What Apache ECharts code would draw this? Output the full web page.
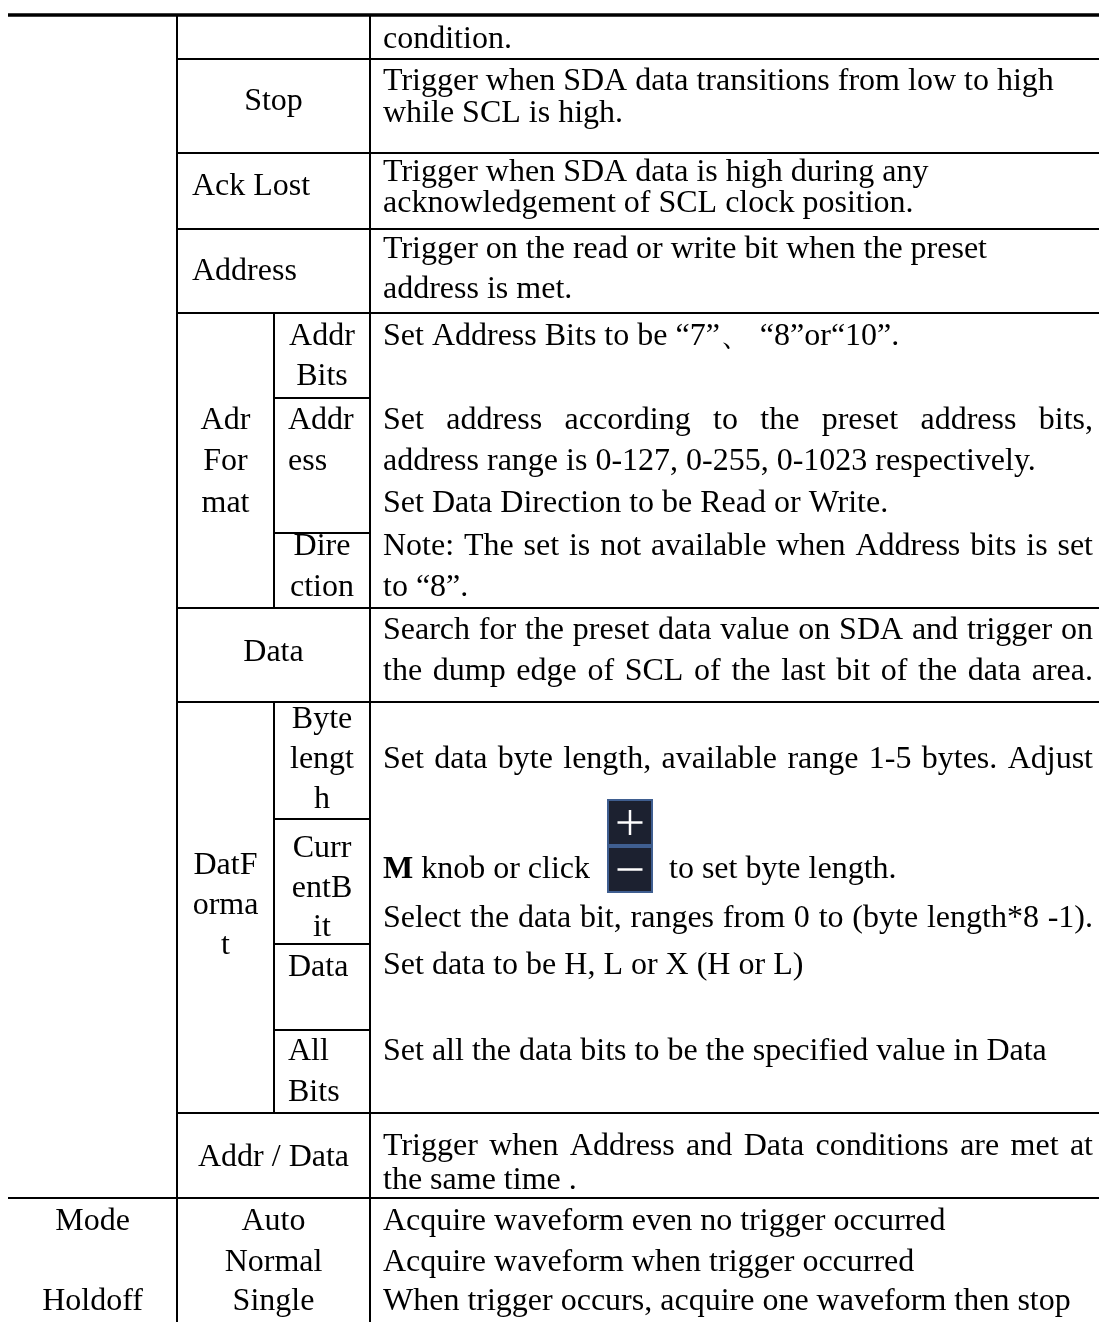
<!DOCTYPE html>
<html><head><meta charset="utf-8">
<script src="https://cdn.jsdelivr.net/npm/echarts@6/dist/echarts.min.js"></script>
<style>html,body{margin:0;padding:0;background:#fff}#c{width:1099px;height:1322px}</style>
</head><body><div id="c"></div>
<script>
// ================= DATA (table content) =================
const optionColumn = ["Mode", "Holdoff"];
const triggerItems = ["Stop", "Ack Lost", "Address", "Data", "Addr / Data", "Auto", "Normal", "Single"];
const formatGroups = ["Adr", "For", "mat", "DatF", "orma", "t"];
const formatFields = ["Addr", "Bits", "Addr", "ess", "Dire", "ction", "Byte", "lengt", "h", "Curr", "entB", "it", "Data", "All", "Bits"];
const descriptions = [
  "condition.",
  "Trigger when SDA data transitions from low to high",
  "while SCL is high.",
  "Trigger when SDA data is high during any",
  "acknowledgement of SCL clock position.",
  "Trigger on the read or write bit when the preset",
  "address is met.",
  "Set Address Bits to be “7”、 “8”or“10”.",
  "Set address according to the preset address bits,",
  "address range is 0-127, 0-255, 0-1023 respectively.",
  "Set Data Direction to be Read or Write.",
  "Note: The set is not available when Address bits is set",
  "to “8”.",
  "Search for the preset data value on SDA and trigger on",
  "the dump edge of SCL of the last bit of the data area.",
  "Set data byte length, available range 1-5 bytes. Adjust",
  "Select the data bit, ranges from 0 to (byte length*8 -1).",
  "Set data to be H, L or X (H or L)",
  "Set all the data bits to be the specified value in Data",
  "Trigger when Address and Data conditions are met at",
  "the same time .",
  "Acquire waveform even no trigger occurred",
  "Acquire waveform when trigger occurred",
  "When trigger occurs, acquire one waveform then stop"
];
const knobLine = ["M", " knob or click", "to set byte length."];

// ================= LAYOUT (positions in pixel axis units) =================
const W = 1099, H = 1322;
const COL1_C = 92.5, COL2_C = 273.5, COL2_L = 192, SUBA_C = 225.5, SUBB_C = 322, SUBB_L = 288;
const DESC_X = 383, DESC_R = 1093;
const descY = [40, 82, 114, 173, 204, 250, 290, 337, 421, 462, 504, 547, 588, 631, 672, 760, 919, 966, 1052, 1147, 1181, 1222, 1263, 1302];
const descJustify = [0,0,0,0,0,0,0,0,1,0,0,1,0,1,1,1,1,0,0,1,0,0,0,0];
const optionPos = [[COL1_C, 1222, 'center'], [COL1_C, 1302, 'center']];
const triggerPos = [[COL2_C, 102, 'center'], [COL2_L, 187, 'left'], [COL2_L, 272, 'left'], [COL2_C, 653, 'center'],
                    [COL2_C, 1158, 'center'], [COL2_C, 1222, 'center'], [COL2_C, 1263, 'center'], [COL2_C, 1302, 'center']];
const groupPos = [[SUBA_C, 421], [SUBA_C, 462], [SUBA_C, 504], [SUBA_C, 866], [SUBA_C, 906], [SUBA_C, 946]];
const fieldPos = [[SUBB_C, 337, 'center'], [SUBB_C, 377, 'center'], [SUBB_L, 421, 'left'], [SUBB_L, 462, 'left'],
                  [SUBB_C, 547, 'center'], [SUBB_C, 588, 'center'], [SUBB_C, 720, 'center'], [SUBB_C, 760, 'center'],
                  [SUBB_C, 800, 'center'], [SUBB_C, 849, 'center'], [SUBB_C, 889, 'center'], [SUBB_C, 928, 'center'],
                  [SUBB_L, 968, 'left'], [SUBB_L, 1052, 'left'], [SUBB_L, 1093, 'left']];
const knobY = 870, knobTailX = 669;
const iconBox = { x: 608, w: 44, plusTop: 800, minusTop: 847, h: 45 };
// rules: [x1, y1, x2, y2, width]
const rules = [
  [8, 15, W, 15, 3.3],
  [177, 59, W, 59, 2], [177, 153, W, 153, 2], [177, 229, W, 229, 2], [177, 313, W, 313, 2],
  [274, 398, 370, 398, 2], [274, 533, 370, 533, 2],
  [177, 608, W, 608, 2], [177, 702, W, 702, 2],
  [274, 819, 370, 819, 2], [274, 944, 370, 944, 2], [274, 1030, 370, 1030, 2],
  [177, 1113, W, 1113, 2], [8, 1198, W, 1198, 2],
  [177, 16, 177, H, 2], [370, 16, 370, H, 2],
  [274, 313, 274, 608, 2], [274, 702, 274, 1113, 2]
];

// ================= BUILD =================
const FAMILY = '"Liberation Serif", "Times New Roman", serif';
const FONT = '32px ' + FAMILY;
const BFONT = 'bold 32px ' + FAMILY;
const mctx = document.createElement('canvas').getContext('2d');
function mw(t, f) { mctx.font = f || FONT; return mctx.measureText(t).width; }

const items = [];
optionColumn.forEach((t, i) => items.push({ text: t, x: optionPos[i][0], y: optionPos[i][1], align: optionPos[i][2] }));
triggerItems.forEach((t, i) => items.push({ text: t, x: triggerPos[i][0], y: triggerPos[i][1], align: triggerPos[i][2] }));
formatGroups.forEach((t, i) => items.push({ text: t, x: groupPos[i][0], y: groupPos[i][1], align: 'center' }));
formatFields.forEach((t, i) => items.push({ text: t, x: fieldPos[i][0], y: fieldPos[i][1], align: fieldPos[i][2] }));
descriptions.forEach((t, i) => items.push({ text: t, x: DESC_X, y: descY[i], align: 'left', justify: !!descJustify[i] }));
items.push({ text: knobLine[0], x: DESC_X, y: knobY, align: 'left', font: BFONT });
items.push({ text: knobLine[1], x: DESC_X + mw(knobLine[0], BFONT), y: knobY, align: 'left' });
items.push({ text: knobLine[2], x: knobTailX, y: knobY, align: 'left' });

const chart = echarts.init(document.getElementById('c'), null, { renderer: 'canvas' });
chart.setOption({
  animation: false,
  backgroundColor: '#ffffff',
  grid: { left: 0, right: 0, top: 0, bottom: 0, containLabel: false },
  xAxis: { type: 'value', min: 0, max: W, show: false },
  yAxis: { type: 'value', min: 0, max: H, inverse: true, show: false },
  series: [
    {
      type: 'custom', name: 'rules', silent: true,
      data: rules.map(r => r.slice()),
      renderItem: (params, api) => {
        const a = api.coord([api.value(0), api.value(1)]);
        const b = api.coord([api.value(2), api.value(3)]);
        return { type: 'line', shape: { x1: a[0], y1: a[1], x2: b[0], y2: b[1] },
                 style: { stroke: '#000', lineWidth: api.value(4) } };
      }
    },
    {
      type: 'custom', name: 'icon', silent: true,
      data: [[iconBox.x, iconBox.plusTop, 1], [iconBox.x, iconBox.minusTop, 0]],
      renderItem: (params, api) => {
        const p = api.coord([api.value(0), api.value(1)]);
        const q = api.coord([api.value(0) + iconBox.w, api.value(1) + iconBox.h]);
        const w = q[0] - p[0], h = q[1] - p[1];
        const cx = p[0] + w / 2, cy = p[1] + h / 2, arm = 12.5;
        const children = [
          { type: 'rect', shape: { x: p[0], y: p[1], width: w, height: h },
            style: { fill: '#1c2130', stroke: '#3f5e90', lineWidth: 2 } },
          { type: 'line', shape: { x1: cx - arm, y1: cy, x2: cx + arm, y2: cy }, style: { stroke: '#fff', lineWidth: 2.5 } }
        ];
        if (api.value(2) === 1) children.push({ type: 'line', shape: { x1: cx, y1: cy - arm, x2: cx, y2: cy + arm }, style: { stroke: '#fff', lineWidth: 2.5 } });
        return { type: 'group', children };
      }
    },
    {
      type: 'custom', name: 'texts', silent: true,
      data: items.map((it, i) => [it.x, it.y, i]),
      renderItem: (params, api) => {
        const it = items[api.value(2)];
        const p = api.coord([api.value(0), api.value(1)]);
        const font = it.font || FONT;
        if (it.justify) {
          const words = it.text.split(' ');
          const right = api.coord([DESC_R, 0])[0];
          const widths = words.map(w => mw(w, font));
          const total = widths.reduce((s, v) => s + v, 0);
          const gap = (right - p[0] - total) / (words.length - 1);
          let cx = p[0];
          const children = words.map((w, k) => {
            const el = { type: 'text', style: { x: cx, y: p[1], text: w, font, fill: '#000', align: 'left', verticalAlign: 'middle' } };
            cx += widths[k] + gap;
            return el;
          });
          return { type: 'group', children };
        }
        return { type: 'text', style: { x: p[0], y: p[1], text: it.text, font, fill: '#000', align: it.align, verticalAlign: 'middle' } };
      }
    }
  ]
});
</script>
</body></html>
